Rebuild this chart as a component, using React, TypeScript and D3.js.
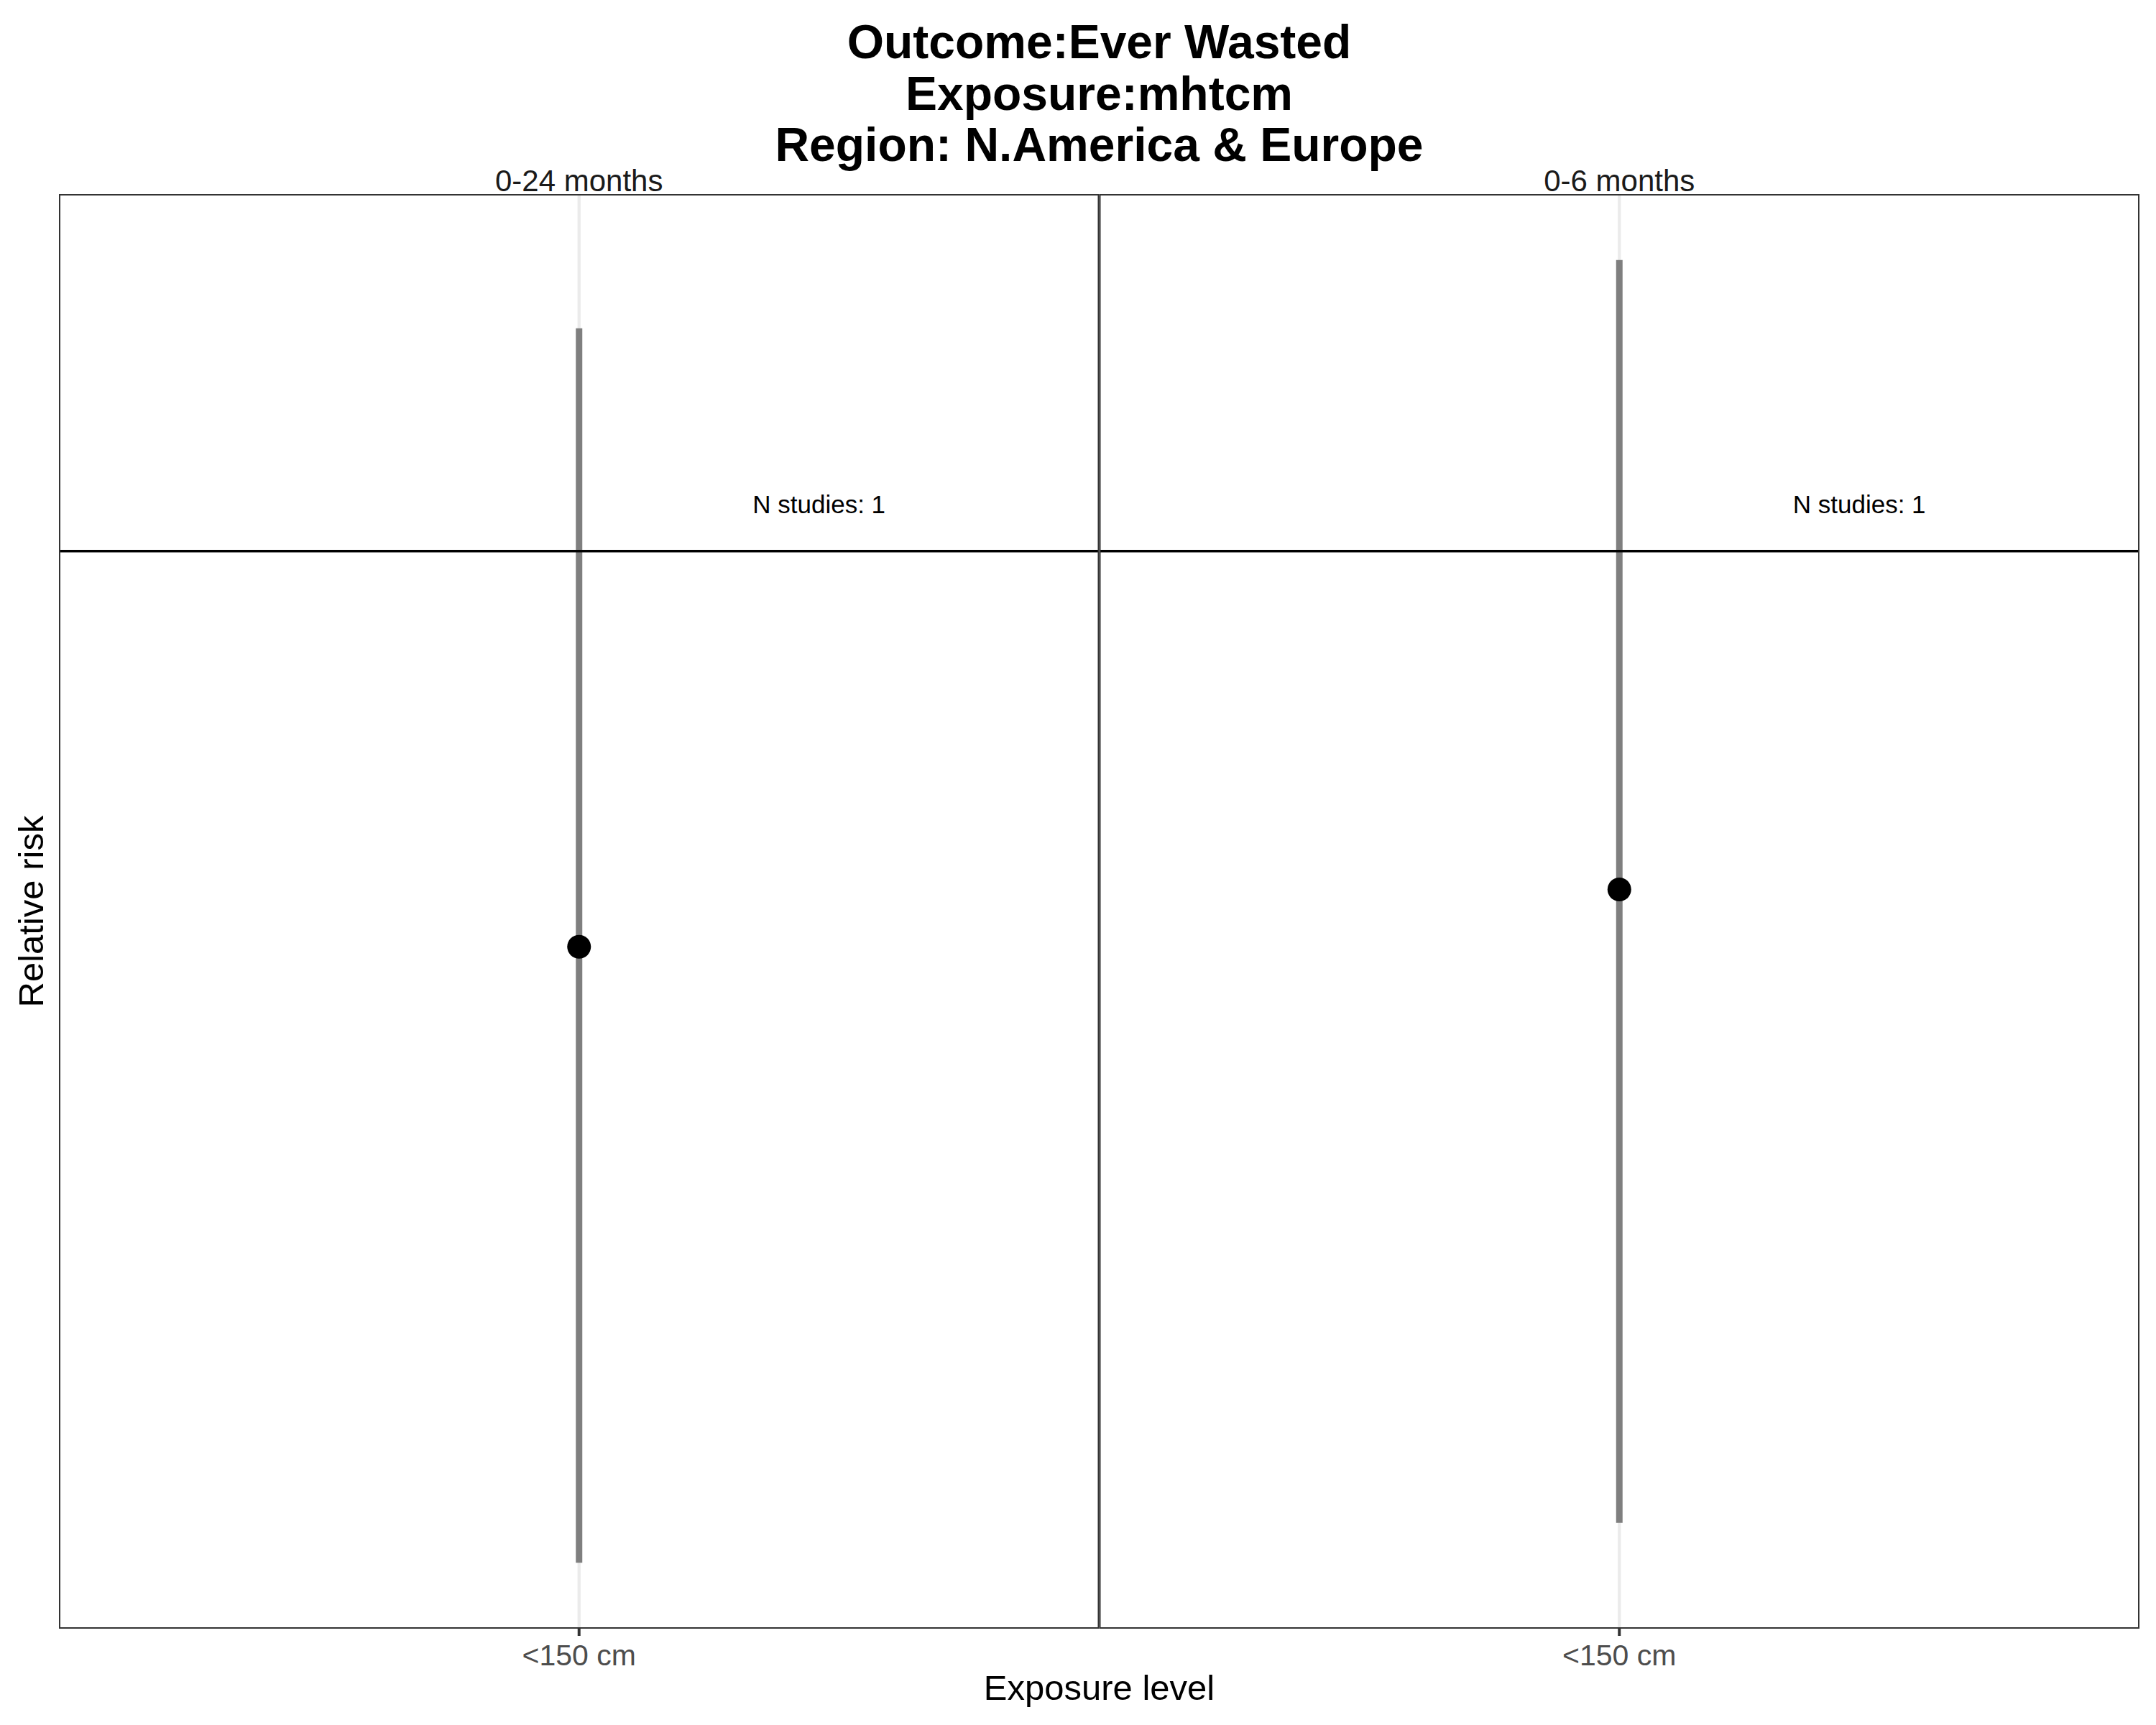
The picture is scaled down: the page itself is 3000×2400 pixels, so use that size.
import React, { useEffect, useRef } from 'react';
import * as d3 from 'd3';

// facet panels (age ranges) and the single exposure level in each
const panels = ['0-24 months', '0-6 months'];
const exposureLevels = ['<150 cm'];

// relative risk estimates and 95% CI, one per panel
const rr = [0.39, 0.447];
const ciLower = [0.09, 0.099];
const ciUpper = [1.7, 2.0];
const nStudies = [1, 1];

const titleLines = ['Outcome:Ever Wasted', 'Exposure:mhtcm', 'Region: N.America & Europe'];
const xTitle = 'Exposure level';
const yTitle = 'Relative risk';

const W = 3000;
const H = 2400;

const App = () => {
  const svgRef = useRef<SVGSVGElement>(null);

  useEffect(() => {
    const svg = d3.select(svgRef.current);
    svg.selectAll('*').remove();

    const font = "'Liberation Sans', Arial, Helvetica, sans-serif";
    const margin = { top: 271, right: 24, bottom: 135, left: 83 };
    const spacing = 2;
    const plotW = W - margin.left - margin.right;
    const panelW = (plotW - spacing) / 2;
    const panelH = H - margin.top - margin.bottom;
    const centerX = margin.left + plotW / 2;

    // log scale with ggplot-style 5% expansion
    const lo = d3.min(ciLower) as number;
    const hi = d3.max(ciUpper) as number;
    const pad = 0.05 * (Math.log10(hi) - Math.log10(lo));
    const y = d3.scaleLog()
      .domain([lo / Math.pow(10, pad), hi * Math.pow(10, pad)])
      .range([panelH, 0]);

    const x = d3.scalePoint()
      .domain(exposureLevels)
      .range([0, panelW])
      .padding(0.5);

    // title
    svg.append('g')
      .selectAll('text')
      .data(titleLines)
      .join('text')
      .attr('x', centerX)
      .attr('y', (d, i) => 81 + i * 71.5)
      .attr('text-anchor', 'middle')
      .attr('font-family', font)
      .attr('font-weight', 'bold')
      .attr('font-size', 66)
      .attr('fill', '#000')
      .text(d => d);

    panels.forEach((name, i) => {
      const g = svg.append('g')
        .attr('transform', `translate(${margin.left + i * (panelW + spacing)},${margin.top})`);
      const level = exposureLevels[0];
      const cx = x(level) as number;

      // x gridline
      g.append('line')
        .attr('x1', cx).attr('x2', cx)
        .attr('y1', 0).attr('y2', panelH)
        .attr('stroke', '#ebebeb')
        .attr('stroke-width', 4.3);

      // CI
      g.append('line')
        .attr('x1', cx).attr('x2', cx)
        .attr('y1', y(ciUpper[i])).attr('y2', y(ciLower[i]))
        .attr('stroke', '#7f7f7f')
        .attr('stroke-width', 9);

      // point estimate
      g.append('circle')
        .attr('cx', cx)
        .attr('cy', y(rr[i]))
        .attr('r', 16.5)
        .attr('fill', '#000');

      // reference line at RR = 1
      g.append('line')
        .attr('x1', 0).attr('x2', panelW)
        .attr('y1', y(1)).attr('y2', y(1))
        .attr('stroke', '#000')
        .attr('stroke-width', 3.5);

      g.append('text')
        .attr('x', cx + panelW * 0.231)
        .attr('y', y(1) - 53)
        .attr('text-anchor', 'middle')
        .attr('font-family', font)
        .attr('font-size', 35)
        .attr('fill', '#000')
        .text(`N studies: ${nStudies[i]}`);

      // panel border
      g.append('rect')
        .attr('x', 0).attr('y', 0)
        .attr('width', panelW).attr('height', panelH)
        .attr('fill', 'none')
        .attr('stroke', '#333333')
        .attr('stroke-width', 2);

      // strip label
      g.append('text')
        .attr('x', cx)
        .attr('y', -5)
        .attr('text-anchor', 'middle')
        .attr('font-family', font)
        .attr('font-size', 42)
        .attr('fill', '#1a1a1a')
        .text(name);

      // x axis tick + label
      g.append('line')
        .attr('x1', cx).attr('x2', cx)
        .attr('y1', panelH).attr('y2', panelH + 11)
        .attr('stroke', '#333333')
        .attr('stroke-width', 4);

      g.append('text')
        .attr('x', cx)
        .attr('y', panelH + 52)
        .attr('text-anchor', 'middle')
        .attr('font-family', font)
        .attr('font-size', 41)
        .attr('fill', '#4d4d4d')
        .text(level);
    });

    // axis titles
    svg.append('text')
      .attr('x', centerX)
      .attr('y', 2365)
      .attr('text-anchor', 'middle')
      .attr('font-family', font)
      .attr('font-size', 49)
      .attr('fill', '#000')
      .text(xTitle);

    svg.append('text')
      .attr('transform', `translate(60,${margin.top + panelH / 2}) rotate(-90)`)
      .attr('text-anchor', 'middle')
      .attr('font-family', font)
      .attr('font-size', 49)
      .attr('fill', '#000')
      .text(yTitle);
  }, []);

  return (
    <svg
      ref={svgRef}
      width={W}
      height={H}
      style={{ position: 'absolute', left: 0, top: 0, background: '#fff' }}
    />
  );
};

export default App;
